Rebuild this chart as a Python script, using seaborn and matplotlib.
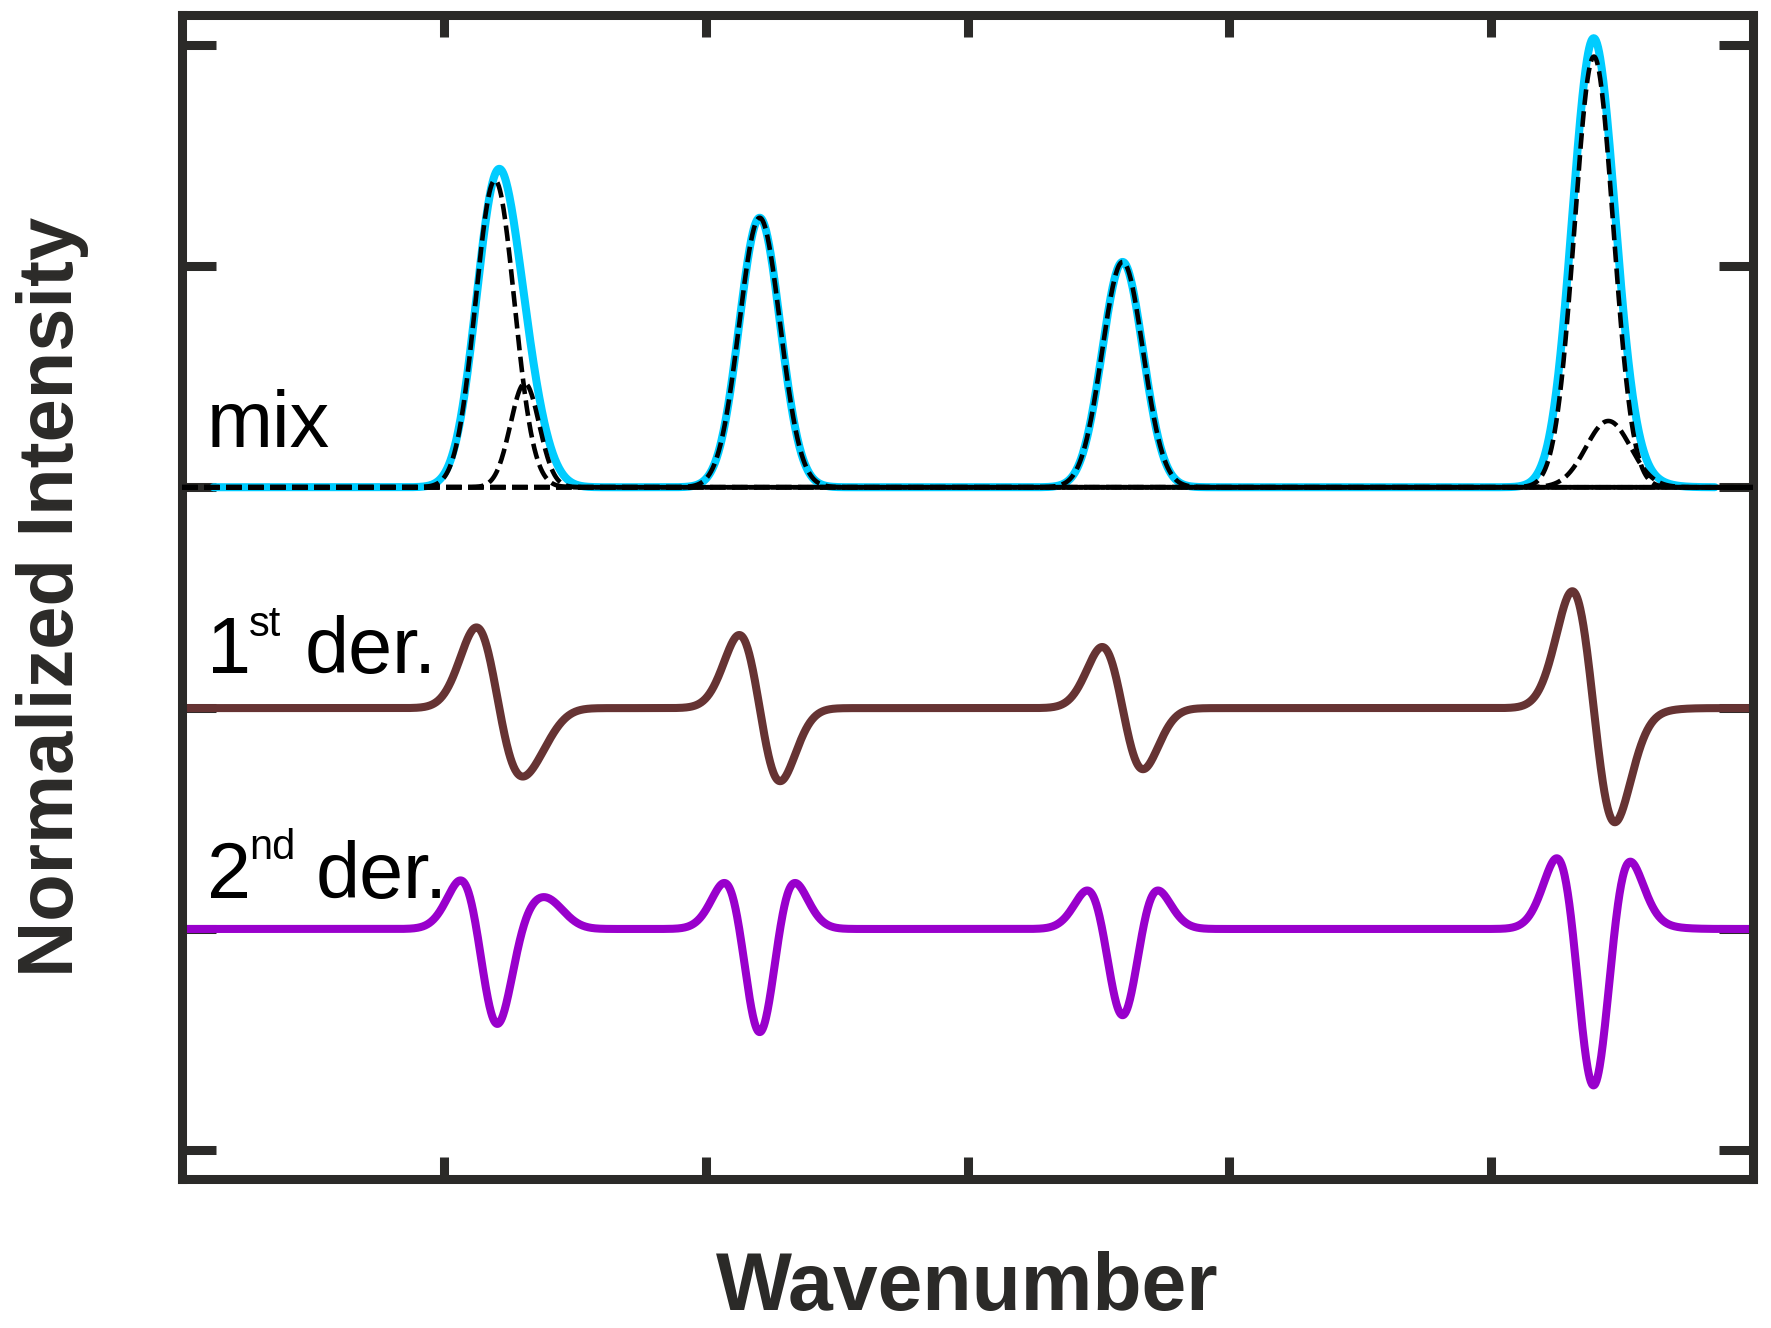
import numpy as np
import pandas as pd
import seaborn as sns
import matplotlib.pyplot as plt

# measured "mix" spectrum, described by its Gaussian bands
# (x in tick units, heights in tick units)
MIX_CENTERS = [1.200, 1.310, 2.206, 3.592, 5.390, 5.500]
MIX_HEIGHTS = [1.32, 0.32, 1.22, 1.02, 2.00, 0.06]
MIX_WIDTHS = [0.080, 0.075, 0.078, 0.078, 0.081, 0.100]

# fitted component bands (dashed)
FIT_CENTERS = [1.195, 1.309, 2.206, 3.592, 5.392, 5.447]
FIT_HEIGHTS = [1.39, 0.47, 1.22, 1.02, 1.95, 0.30]
FIT_WIDTHS = [0.074, 0.055, 0.078, 0.078, 0.074, 0.085]

MIX_RANGE = [0.12, 5.855]
FULL_RANGE = [0.0, 6.0]

# vertical offset of each trace and scale of the derivative traces
OFFSET_MIX = 0.0
OFFSET_DER1 = -1.0
OFFSET_DER2 = -2.0
DER1_SCALE = 0.0349
DER2_SCALE = 0.00233

X_TICKS = [1, 2, 3, 4, 5]
Y_TICKS = [2, 1, 0, -1, -2, -3]

CYAN = '#00ccff'
BROWN = '#663333'
PURPLE = '#9900cc'
FRAME = '#2b2a28'

sns.set_theme(style='white')
plt.rcParams['font.family'] = ['Liberation Sans', 'DejaVu Sans']


def gauss(x, c, h, s):
    return h * np.exp(-(x - c) ** 2 / (2 * s ** 2))


x = np.linspace(FULL_RANGE[0], FULL_RANGE[1], 3001)
mix = np.zeros_like(x)
for c, h, s in zip(MIX_CENTERS, MIX_HEIGHTS, MIX_WIDTHS):
    mix += gauss(x, c, h, s)
components = [gauss(x, c, h, s) for c, h, s in zip(FIT_CENTERS, FIT_HEIGHTS, FIT_WIDTHS)]
der1 = np.gradient(mix, x)
der2 = np.gradient(der1, x)

spec = pd.DataFrame({'x': x, 'mix': mix + OFFSET_MIX,
                     'der1': der1 * DER1_SCALE + OFFSET_DER1,
                     'der2': der2 * DER2_SCALE + OFFSET_DER2})
mix_part = spec[(spec['x'] >= MIX_RANGE[0]) & (spec['x'] <= MIX_RANGE[1])]

fig = plt.figure(figsize=(17.71, 13.28), dpi=100)
ax = fig.add_axes([0.1028, 0.1122, 0.8871, 0.8765])

sns.lineplot(data=mix_part, x='x', y='mix', ax=ax, color=CYAN, linewidth=5.8,
             sort=False, estimator=None, zorder=2)
for comp in components:
    sns.lineplot(x=x, y=comp + OFFSET_MIX, ax=ax, color='black', linewidth=3.3,
                 linestyle=(0, (3.4, 1.4)), sort=False, estimator=None, zorder=3)
sns.lineplot(data=spec, x='x', y='der1', ax=ax, color=BROWN, linewidth=5.8,
             sort=False, estimator=None, zorder=2)
sns.lineplot(data=spec, x='x', y='der2', ax=ax, color=PURPLE, linewidth=5.8,
             sort=False, estimator=None, zorder=2)

ax.set_xlim(FULL_RANGE[0], FULL_RANGE[1])
ax.set_ylim(-3.132, 2.138)
ax.set_xticks(X_TICKS)
ax.set_yticks(Y_TICKS)
ax.tick_params(axis='both', direction='in', top=True, right=True, bottom=True, left=True,
               labelbottom=False, labelleft=False, width=6.5, color=FRAME)
ax.tick_params(axis='y', length=24.5)
ax.tick_params(axis='x', length=16)
for sp in ax.spines.values():
    sp.set_linewidth(6.5)
    sp.set_color(FRAME)
    sp.set_capstyle('projecting')

# trace labels
ax.text(0.095, 0.18, 'mix', fontsize=57, color='black', va='baseline')
ax.text(0.096, -0.84, '1', fontsize=57, color='black', va='baseline')
ax.text(0.257, -0.672, 'st', fontsize=30, color='black', va='baseline')
ax.text(0.468, -0.84, 'der.', fontsize=57, color='black', va='baseline')
ax.text(0.095, -1.86, '2', fontsize=57, color='black', va='baseline')
ax.text(0.257, -1.684, 'nd', fontsize=30, color='black', va='baseline')
ax.text(0.512, -1.86, 'der.', fontsize=57, color='black', va='baseline')

ax.set_xlabel('Wavenumber', fontsize=58, fontweight='bold', color=FRAME)
ax.set_ylabel('Normalized Intensity', fontsize=56, fontweight='bold', color=FRAME)
ax.xaxis.set_label_coords(0.5, -0.1125)
ax.xaxis.label.set_va('baseline')
ax.yaxis.set_label_coords(-0.0694, 0.5)
ax.yaxis.label.set_va('baseline')

fig.savefig('out.png', dpi=100)
